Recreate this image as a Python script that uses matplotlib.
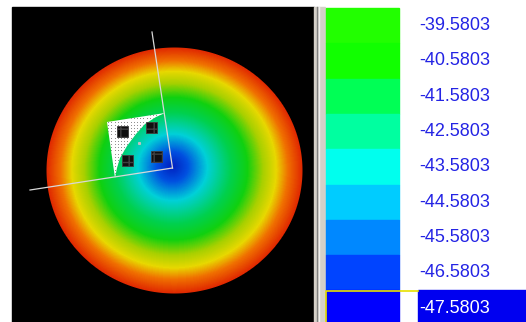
import numpy as np
import matplotlib.pyplot as plt
from matplotlib.colors import LinearSegmentedColormap
from matplotlib.patches import Rectangle, Polygon

# legend levels and swatch colours (top to bottom)
levels = [-39.5803, -40.5803, -41.5803, -42.5803, -43.5803,
          -44.5803, -45.5803, -46.5803, -47.5803]
swatch = ['#22ff00', '#11ff00', '#00ff55', '#00ffa0', '#00ffee',
          '#00ccff', '#0088ff', '#0044ff', '#0000ff']

# radial colour ramp of the disc (centre -> rim)
ramp_pos = [0.0, 0.12, 0.27, 0.45, 0.58, 0.70, 0.80, 0.89, 1.0]
ramp_col = ['#0020c0', '#0050e0', '#00d0d8', '#00d050', '#10d010',
            '#a8d000', '#e8d800', '#f07000', '#e02800']

# disc geometry (pixels)
disc_c = (174.5, 170.5)
disc_ab = (128, 123)
low_pt = (172, 166)

W, H = 526, 322
fig = plt.figure(figsize=(W / 100, H / 100), dpi=100)
ax = fig.add_axes([0, 0, 1, 1])
ax.set_xlim(0, W)
ax.set_ylim(H, 0)
ax.axis('off')
fig.patch.set_facecolor('white')

# black viewport
ax.add_patch(Rectangle((12, 7), 302, 315, color='black', zorder=0))

# disc field
cmap = LinearSegmentedColormap.from_list('ramp', list(zip(ramp_pos, ramp_col)))
xs = np.arange(40, 310) + 0.5
ys = np.arange(40, 300) + 0.5
X, Y = np.meshgrid(xs, ys)
u = (X - disc_c[0]) / disc_ab[0]
v = (Y - disc_c[1]) / disc_ab[1]
mu = (low_pt[0] - disc_c[0]) / disc_ab[0]
mv = (low_pt[1] - disc_c[1]) / disc_ab[1]
du, dv = u - mu, v - mv
d = np.hypot(du, dv) + 1e-9
eu, ev = du / d, dv / d
b = eu * mu + ev * mv
s = -b + np.sqrt(b ** 2 - (mu ** 2 + mv ** 2) + 1)
t = np.clip(d / s, 0, 1)
rgba = cmap(t)
rr = np.hypot(u, v)
rgba[..., 3] = np.clip((1 - rr) * disc_ab[0] + 0.5, 0, 1)
ax.imshow(rgba, extent=(40, 310, 300, 40), interpolation='bilinear', zorder=1)

# white patch with concave edge
pts = [(107, 122), (165, 113), (156, 117), (145, 124), (136, 134),
       (127, 146), (120, 158), (117, 168), (115, 178)]
ax.add_patch(Polygon(pts, closed=True, facecolor='white', edgecolor='none', zorder=2))
gx, gy = np.meshgrid(np.arange(105, 168, 3.2), np.arange(112, 180, 3.2))
dots = ax.scatter(gx.ravel(), gy.ravel(), s=0.6, color='#808080', zorder=3, linewidths=0)
dots.set_clip_path(Polygon(pts, closed=True, transform=ax.transData))

# small black markers
for mx, my in [(122, 131), (151, 127), (127, 160), (156, 156)]:
    ax.add_patch(Rectangle((mx - 5.5, my - 5.5), 11, 11, facecolor='#101010',
                           edgecolor='#404040', lw=0.6, zorder=4, hatch='++'))
ax.plot([139], [143], 's', ms=1.2, color='#c0c0c0', zorder=4)

# axis lines
ax.plot([152, 172.5], [32, 168], color='#d8d8d8', lw=0.9, zorder=5)
ax.plot([172.5, 30], [168, 190], color='#d8d8d8', lw=0.9, zorder=5)

# separator between viewport and legend
ax.add_patch(Rectangle((314, 7), 11, 315, color='#d4d0c8', zorder=0))
ax.plot([316.5, 316.5], [7, 322], color='#808080', lw=1, zorder=1)
ax.plot([318.5, 318.5], [7, 322], color='#f0f0f0', lw=1, zorder=1)

# legend rows
row_h = 35.3
top = 8
for i, (lev, col) in enumerate(zip(levels, swatch)):
    y0 = top + i * row_h
    ax.add_patch(Rectangle((326, y0), 73, row_h, color=col, zorder=1))
    tc = '#2424e4'
    if i == len(levels) - 1:
        ax.add_patch(Rectangle((418, y0), W - 418, row_h, color='#0000f0', zorder=1))
        ax.plot([325.5, 325.5, 418], [H, y0 + 0.5, y0 + 0.5], color='#e8e000', lw=1.2, zorder=3)
        tc = 'white'
    ax.text(419, y0 + row_h / 2, '%.4f' % lev, color=tc, fontsize=13,
            family='Liberation Sans', va='center', ha='left', zorder=4)

fig.savefig('out.png', dpi=100, facecolor='white')
